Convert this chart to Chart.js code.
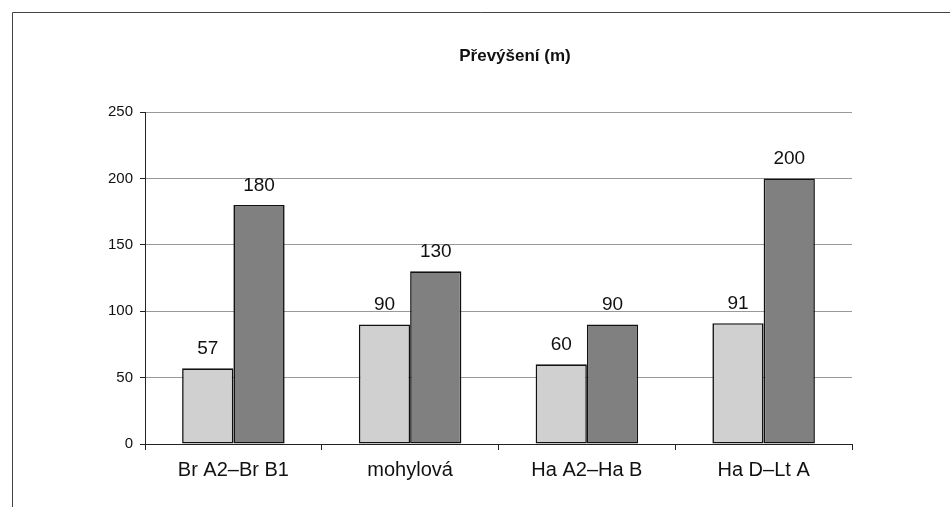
<!DOCTYPE html>
<html>
<head>
<meta charset="utf-8">
<script src="https://cdn.jsdelivr.net/npm/chart.js@4/dist/chart.umd.min.js"></script>
<style>
html,body{margin:0;padding:0;background:#fff;}
#wrap{width:950px;height:507px;position:relative;}
</style>
</head>
<body>
<div id="wrap"><canvas id="c" width="950" height="507"></canvas></div>
<script>
const categories = ["Br A2–Br B1", "mohylová", "Ha A2–Ha B", "Ha D–Lt A"];
const seriesLight = [57, 90, 60, 91];
const seriesDark = [180, 130, 90, 200];
const yTicks = [0, 50, 100, 150, 200, 250];
const titleText = "Převýšení (m)";

const FONT = "'Liberation Sans', Arial, sans-serif";

const framePlugin = {
  id: 'frame',
  beforeDraw(chart) {
    const ctx = chart.ctx;
    ctx.save();
    ctx.strokeStyle = '#444';
    ctx.lineWidth = 1;
    ctx.beginPath();
    ctx.moveTo(12.5, 507);
    ctx.lineTo(12.5, 12.5);
    ctx.lineTo(950, 12.5);
    ctx.stroke();
    ctx.fillStyle = '#111';
    ctx.font = "bold 17px " + FONT;
    ctx.textAlign = 'center';
    ctx.textBaseline = 'middle';
    ctx.fillText(titleText, 515, 56);
    ctx.restore();
  }
};

const labelPlugin = {
  id: 'barLabels',
  afterDatasetsDraw(chart) {
    const ctx = chart.ctx;
    ctx.save();
    ctx.fillStyle = '#111';
    ctx.font = "19px " + FONT;
    ctx.textAlign = 'center';
    ctx.textBaseline = 'alphabetic';
    chart.data.datasets.forEach((ds, i) => {
      const meta = chart.getDatasetMeta(i);
      meta.data.forEach((bar, j) => {
        ctx.fillText(String(ds.data[j]), bar.x, bar.y - 14);
      });
    });
    ctx.restore();
  }
};

new Chart(document.getElementById('c'), {
  type: 'bar',
  data: {
    labels: categories,
    datasets: [
      { data: seriesLight, backgroundColor: '#d0d0d0', borderColor: '#111', borderWidth: 1.6, borderSkipped: false },
      { data: seriesDark, backgroundColor: '#808080', borderColor: '#111', borderWidth: 1.6, borderSkipped: false }
    ]
  },
  options: {
    responsive: false,
    animation: false,
    devicePixelRatio: 1,
    layout: { padding: { left: 0, right: 98, top: 112, bottom: 0 } },
    plugins: {
      legend: { display: false },
      tooltip: { enabled: false },
      title: { display: false }
    },
    datasets: { bar: { categoryPercentage: 0.58, barPercentage: 1.0 } },
    scales: {
      x: {
        grid: {
          offset: true,
          drawOnChartArea: true,
          color: (c) => c.index === categories.length ? '#888' : 'rgba(0,0,0,0)',
          tickColor: '#222',
          tickLength: 6
        },
        border: { display: true, color: '#222', width: 1 },
        ticks: { color: '#111', font: { family: FONT, size: 20 }, padding: 8 },
        afterFit: (s) => { s.height = 63; }
      },
      y: {
        min: 0, max: 250,
        afterBuildTicks: (s) => { s.ticks = yTicks.map(v => ({ value: v })); },
        grid: { color: '#999', tickColor: '#222', tickLength: 5 },
        border: { display: true, color: '#222', width: 1 },
        ticks: { color: '#111', font: { family: FONT, size: 15 }, padding: 7 },
        afterFit: (s) => { s.width = 145; }
      }
    }
  },
  plugins: [framePlugin, labelPlugin]
});
</script>
</body>
</html>
